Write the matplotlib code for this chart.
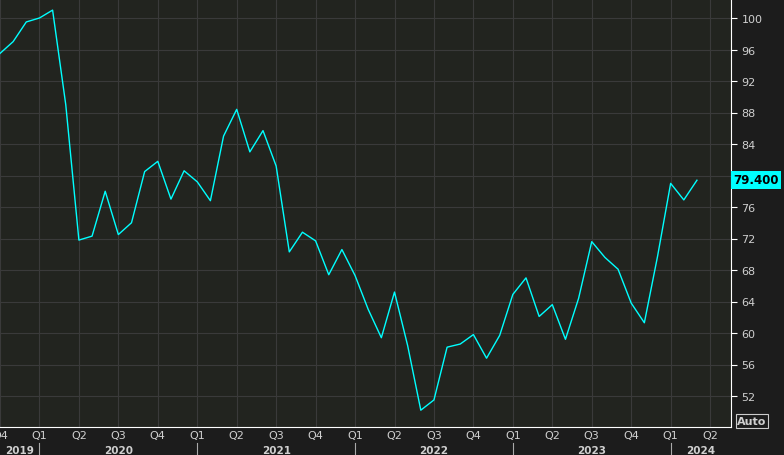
import matplotlib
matplotlib.use("Agg")
import matplotlib.pyplot as plt

values = [95.5, 97, 99.5, 100, 101, 89, 71.8, 72.3, 78, 72.5, 74, 80.5,
          81.8, 77, 80.6, 79.2, 76.8, 85, 88.4, 83, 85.7, 81.2, 70.3, 72.8,
          71.7, 67.4, 70.6, 67.3, 63, 59.4, 65.2, 58.4, 50.2, 51.5, 58.2, 58.6,
          59.8, 56.8, 59.7, 64.9, 67, 62.1, 63.6, 59.2, 64.4, 71.6, 69.6, 68.1,
          63.8, 61.3, 69.7, 79, 76.9, 79.4]
quarter_labels = ["Q4", "Q1", "Q2", "Q3", "Q4", "Q1", "Q2", "Q3", "Q4", "Q1", "Q2",
                  "Q3", "Q4", "Q1", "Q2", "Q3", "Q4", "Q1", "Q2"]
years = ["2019", "2020", "2021", "2022", "2023", "2024"]
yticks = [52, 56, 60, 64, 68, 72, 76, 80, 84, 88, 92, 96, 100]

W, H = 784, 456
fig = plt.figure(figsize=(W/100, H/100), dpi=100, facecolor="#1c1c1c")
ax = fig.add_axes([0, 28/H, 731/W, 1 - 28/H])
ax.set_facecolor("#22241f")
x = list(range(len(values)))
ax.plot(x, values, color="#00ffff", lw=1)
xmax = 731/13.15
ax.set_xlim(0, xmax)
ylo = 100 - (428-19)/7.875
yhi = 100 + 19/7.875
ax.set_ylim(ylo, yhi)

qpos = [3*i for i in range(len(quarter_labels))]
ax.set_xticks(qpos)
ax.set_xticklabels(quarter_labels)
ax.set_yticks(yticks)
ax.set_yticklabels([str(v) for v in yticks])
ax.yaxis.tick_right()
ax.grid(True, color="#3a3a3a", lw=0.8)
for s in ["top", "left"]:
    ax.spines[s].set_visible(False)
for s in ["right", "bottom"]:
    ax.spines[s].set_color("white")
ax.tick_params(axis="both", colors="white", labelcolor="#d0d0d0", labelsize=8, length=4)
ax.tick_params(axis="x", length=0, pad=2)

tr = ax.get_xaxis_transform()
year_bounds = [0, 3, 15, 27, 39, 51, xmax]
for i, yr in enumerate(years):
    a, b = year_bounds[i], year_bounds[i+1]
    ax.text((a+b)/2, -(451-428)/428, yr, transform=tr, ha="center", va="center",
            color="#d0d0d0", fontsize=7.5, fontweight="bold")
    if i > 0:
        ax.plot([a, a], [-(444-428)/428, -(456-428)/428], transform=tr, color="#aaaaaa",
                lw=0.8, clip_on=False)

fig.text(733/W, 1 - 181/H, f"{values[-1]:.3f}", ha="left", va="center", fontsize=8.5,
         fontweight="bold", color="black",
         bbox=dict(boxstyle="square,pad=0.2", fc="#00ffff", ec="none"), zorder=10)
fig.text(752/W, 1 - 422/H, "Auto", ha="center", va="center", color="#d0d0d0", fontsize=8,
         fontweight="bold", bbox=dict(boxstyle="square,pad=0.15", fc="#1c1c1c", ec="#cccccc", lw=0.8))
fig.savefig("out.png", dpi=100, facecolor=fig.get_facecolor())
